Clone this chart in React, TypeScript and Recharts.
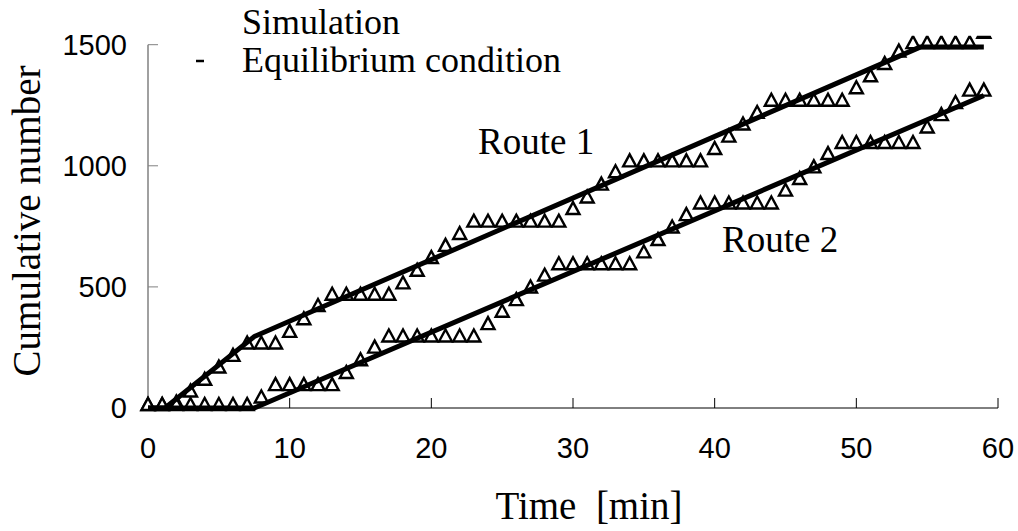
import { ScatterChart, Scatter, XAxis, YAxis, ReferenceLine } from 'recharts';

// time in minutes for the simulated points
const minutes = [
  0, 1, 2, 3, 4, 5, 6, 7, 8, 9, 10, 11, 12, 13, 14, 15, 16, 17, 18, 19,
  20, 21, 22, 23, 24, 25, 26, 27, 28, 29, 30, 31, 32, 33, 34, 35, 36, 37, 38, 39,
  40, 41, 42, 43, 44, 45, 46, 47, 48, 49, 50, 51, 52, 53, 54, 55, 56, 57, 58, 59,
];

const route1Sim = [
  0, 0, 10, 56, 104, 155, 203, 254, 254, 254, 302, 354, 409, 455, 455, 455, 455, 455, 502, 554,
  607, 657, 706, 757, 757, 757, 757, 757, 757, 757, 809, 857, 910, 961, 1006, 1006, 1006, 1006, 1006, 1006,
  1057, 1108, 1158, 1206, 1256, 1256, 1256, 1256, 1256, 1256, 1308, 1357, 1408, 1459, 1494, 1494, 1494, 1494, 1494, 1537,
];

const route2Sim = [
  0, 0, 0, 0, 0, 0, 0, 0, 31, 82, 82, 82, 82, 82, 132, 185, 237, 283, 283, 283,
  283, 283, 283, 283, 334, 385, 433, 485, 534, 581, 581, 581, 581, 581, 581, 630, 681, 733, 784, 832,
  832, 832, 832, 832, 832, 885, 933, 981, 1036, 1082, 1082, 1082, 1082, 1082, 1082, 1146, 1197, 1247, 1298, 1298,
];

// equilibrium condition (break points of the piecewise lines)
const eqTime1 = [0, 1.2, 7.5, 54.5, 59];
const eqRoute1 = [0, 0, 295, 1490, 1490];
const eqTime2 = [0, 7.5, 59];
const eqRoute2 = [0, 0, 1290];

const xTicks = [0, 10, 20, 30, 40, 50, 60];
const yTicks = [0, 500, 1000, 1500];

const sim1 = minutes.map((t, i) => ({ t, v: route1Sim[i] }));
const sim2 = minutes.map((t, i) => ({ t, v: route2Sim[i] }));
const eq1 = eqTime1.map((t, i) => ({ t, v: eqRoute1[i] }));
const eq2 = eqTime2.map((t, i) => ({ t, v: eqRoute2[i] }));

const W = 1018;
const H = 531;
const CLIP_TOP = 37;
const serif = "'Liberation Serif', 'Times New Roman', serif";
const sans = "'Liberation Sans', Arial, sans-serif";

// open triangle, point sits near the base like the excel marker
const Triangle = (props: any) => {
  const { cx, cy } = props;
  if (cx == null || cy == null) return <g />;
  const top = cy - 10;
  const base = cy + 2;
  const half = 6.5;
  let pts: string;
  if (top >= CLIP_TOP) {
    pts = `${cx - half},${base} ${cx + half},${base} ${cx},${top}`;
  } else if (base <= CLIP_TOP) {
    return <g />;
  } else {
    const k = (CLIP_TOP - top) / (base - top);
    const w = half * k;
    pts = `${cx - half},${base} ${cx + half},${base} ${cx + w},${CLIP_TOP} ${cx - w},${CLIP_TOP}`;
  }
  return <polygon points={pts} fill="#fff" stroke="#000" strokeWidth={2.4} strokeLinejoin="miter" />;
};

const NoDot = () => <g />;

export default function App() {
  return (
    <div style={{ position: 'absolute', left: 0, top: 0, width: W, height: H, background: '#fff' }}>
      <ScatterChart width={W} height={H} margin={{ top: 35, right: 20, bottom: 83, left: 88 }}>
        <XAxis
          type="number"
          dataKey="t"
          domain={[0, 60]}
          ticks={xTicks}
          interval={0}
          height={40}
          axisLine={{ stroke: '#000' }}
          tickLine={{ stroke: '#000' }}
          tickSize={-10}
          tickMargin={39}
          tick={{ fill: '#000', fontSize: 29, fontFamily: sans }}
        />
        <YAxis
          type="number"
          dataKey="v"
          domain={[0, 1540]}
          ticks={yTicks}
          interval={0}
          width={60}
          axisLine={false}
          tickLine={{ stroke: '#808080' }}
          tickSize={-10}
          tickMargin={31}
          tick={{ fill: '#000', fontSize: 29, fontFamily: sans }}
        />
        <ReferenceLine segment={[{ x: 0, y: 0 }, { x: 0, y: 1500 }]} stroke="#808080" strokeWidth={1.5} />
        <Scatter data={sim1} shape={Triangle} isAnimationActive={false} />
        <Scatter data={sim2} shape={Triangle} isAnimationActive={false} />
        <Scatter
          data={eq1}
          shape={NoDot}
          line={{ stroke: '#000', strokeWidth: 5 }}
          lineType="joint"
          isAnimationActive={false}
        />
        <Scatter
          data={eq2}
          shape={NoDot}
          line={{ stroke: '#000', strokeWidth: 5 }}
          lineType="joint"
          isAnimationActive={false}
        />
        <text x={242} y={34} fontSize={36} fontFamily={serif} fill="#000">Simulation</text>
        <line x1={196} x2={204} y1={61} y2={61} stroke="#000" strokeWidth={2.5} />
        <text x={242} y={72} fontSize={36} fontFamily={serif} fill="#000">Equilibrium condition</text>
        <text x={478} y={154} fontSize={37} fontFamily={serif} fill="#000">Route 1</text>
        <text x={722} y={252} fontSize={37} fontFamily={serif} fill="#000">Route 2</text>
        <text
          x={40}
          y={221}
          fontSize={39}
          fontFamily={serif}
          fill="#000"
          textAnchor="middle"
          transform="rotate(-90 40 221)"
        >
          Cumulative number
        </text>
        <text x={589} y={519} fontSize={39} fontFamily={serif} fill="#000" textAnchor="middle" xmlSpace="preserve">
          Time  [min]
        </text>
      </ScatterChart>
    </div>
  );
}
